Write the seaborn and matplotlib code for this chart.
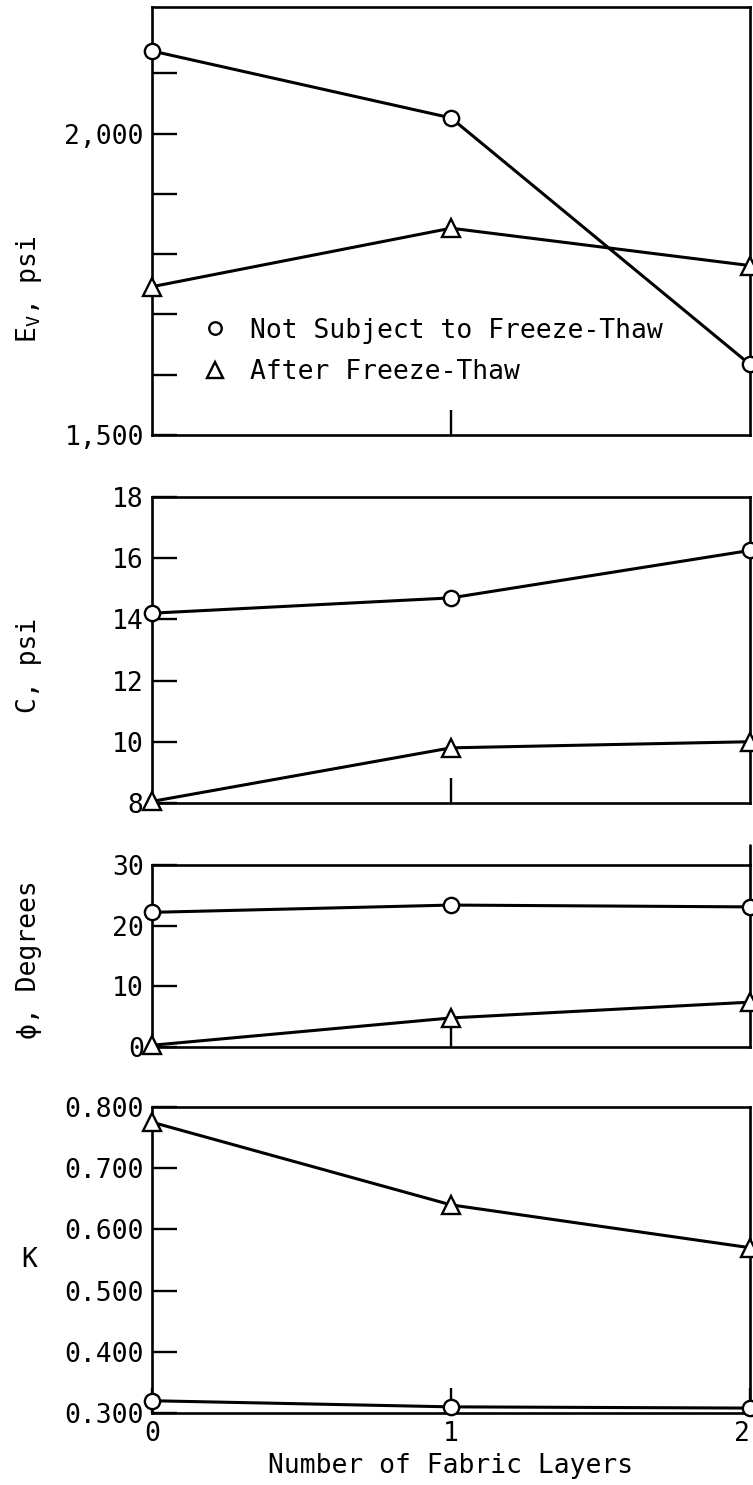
import matplotlib
matplotlib.use("Agg")
import matplotlib.pyplot as plt
from matplotlib.lines import Line2D
import seaborn as sns
import pandas as pd

# ---------------- data ----------------
layers = [0, 1, 2]
ev_not = [2137, 2026, 1617]
ev_after = [1746, 1843, 1781]
c_not = [14.2, 14.7, 16.25]
c_after = [8.05, 9.8, 10.0]
phi_not = [22.2, 23.4, 23.1]
phi_after = [0.3, 4.8, 7.4]
k_not = [0.320, 0.310, 0.308]
k_after = [0.775, 0.640, 0.570]

series_labels = ["Not Subject to Freeze-Thaw", "After Freeze-Thaw"]
x_ticklabels = ["0", "1", "2"]

ev_ticks = list(range(1500, 2200, 100))
ev_ticklabels = ["1,500", "", "", "", "", "2,000", ""]
c_ticks = [8, 10, 12, 14, 16, 18]
c_ticklabels = ["8", "10", "12", "14", "16", "18"]
phi_ticks = [0, 10, 20, 30]
phi_ticklabels = ["0", "10", "20", "30"]
k_ticks = [0.3, 0.4, 0.5, 0.6, 0.7, 0.8]
k_ticklabels = ["0.300", "0.400", "0.500", "0.600", "0.700", "0.800"]

# ---------------- style ----------------
sns.set_style("ticks")
plt.rcParams["font.family"] = ["DejaVu Sans Mono", "DejaVu Sans"]
plt.rcParams["mathtext.fontset"] = "dejavusans"
plt.rcParams["text.color"] = "black"
plt.rcParams["axes.labelcolor"] = "black"
FS = 19
LW = 2.2

fig = plt.figure(figsize=(7.53, 14.85), dpi=100)
left, width = 0.2019, 0.794
ax1 = fig.add_axes([left, 0.7071, width, 0.2882])
ax2 = fig.add_axes([left, 0.4593, width, 0.2061])
ax3 = fig.add_axes([left, 0.2949, width, 0.1226])
ax4 = fig.add_axes([left, 0.0485, width, 0.2061])

panels = [
    (ax1, ev_not, ev_after, (1500, 2210), ev_ticks, ev_ticklabels, r"E$_{\mathregular{V}}$, psi", 0.34, 90),
    (ax2, c_not, c_after, (8, 18), c_ticks, c_ticklabels, "C, psi", 0.45, 90),
    (ax3, phi_not, phi_after, (0, 30), phi_ticks, phi_ticklabels, "\u03d5, Degrees", 0.48, 90),
    (ax4, k_not, k_after, (0.3, 0.8), k_ticks, k_ticklabels, "K", 0.5, 0),
]

for ax, ynot, yafter, ylim, yt, ytl, ylab, ly, rot in panels:
    df_not = pd.DataFrame({"layers": layers, "val": ynot})
    df_aft = pd.DataFrame({"layers": layers, "val": yafter})
    sns.lineplot(data=df_not, x="layers", y="val", ax=ax, color="black", lw=LW,
                 marker="o", markersize=11, markerfacecolor="white",
                 markeredgecolor="black", markeredgewidth=1.7, clip_on=False, zorder=5)
    sns.lineplot(data=df_aft, x="layers", y="val", ax=ax, color="black", lw=LW,
                 marker="^", markersize=13, markerfacecolor="white",
                 markeredgecolor="black", markeredgewidth=1.7, clip_on=False, zorder=5)
    ax.set_xlim(0, 2)
    ax.set_ylim(*ylim)
    ax.set_yticks(yt)
    ax.set_yticklabels(ytl, fontsize=FS)
    ax.set_xticks([1])
    ax.set_xticklabels([])
    ax.tick_params(axis="both", direction="in", length=18, width=1.7, pad=6,
                   colors="black", labelsize=FS)
    for sp in ax.spines.values():
        sp.set_visible(True)
        sp.set_linewidth(1.9)
        sp.set_color("black")
    ax.set_xlabel("")
    ax.set_ylabel(ylab, fontsize=FS, rotation=rot, va="center", ha="center", color="black")
    ax.yaxis.set_label_coords(-0.205, ly)

# bottom panel x tick labels
ax4.set_xticks([0, 1, 2])
ax4.set_xticklabels(x_ticklabels, fontsize=FS)
ax4.get_xticklabels()[-1].set_horizontalalignment("right")
ax4.tick_params(axis="x", pad=6)
ax4.set_xlabel("Number of Fabric Layers", fontsize=FS, labelpad=4, color="black")

# right spine of phi panel extends above
ax3.axvline(2, 1.0, 1.11, color="black", lw=1.9, clip_on=False)

# legend
handles = [
    Line2D([], [], ls="none", marker="o", markersize=9, markerfacecolor="white",
           markeredgecolor="black", markeredgewidth=1.7),
    Line2D([], [], ls="none", marker="^", markersize=12, markerfacecolor="white",
           markeredgecolor="black", markeredgewidth=1.7),
]
ax1.legend(handles, series_labels, loc="center left", bbox_to_anchor=(0.084, 0.195),
           frameon=False, fontsize=FS, handlelength=1.0, handletextpad=0.8,
           borderpad=0, borderaxespad=0, labelspacing=0.6)

fig.savefig("out.png", dpi=100)
